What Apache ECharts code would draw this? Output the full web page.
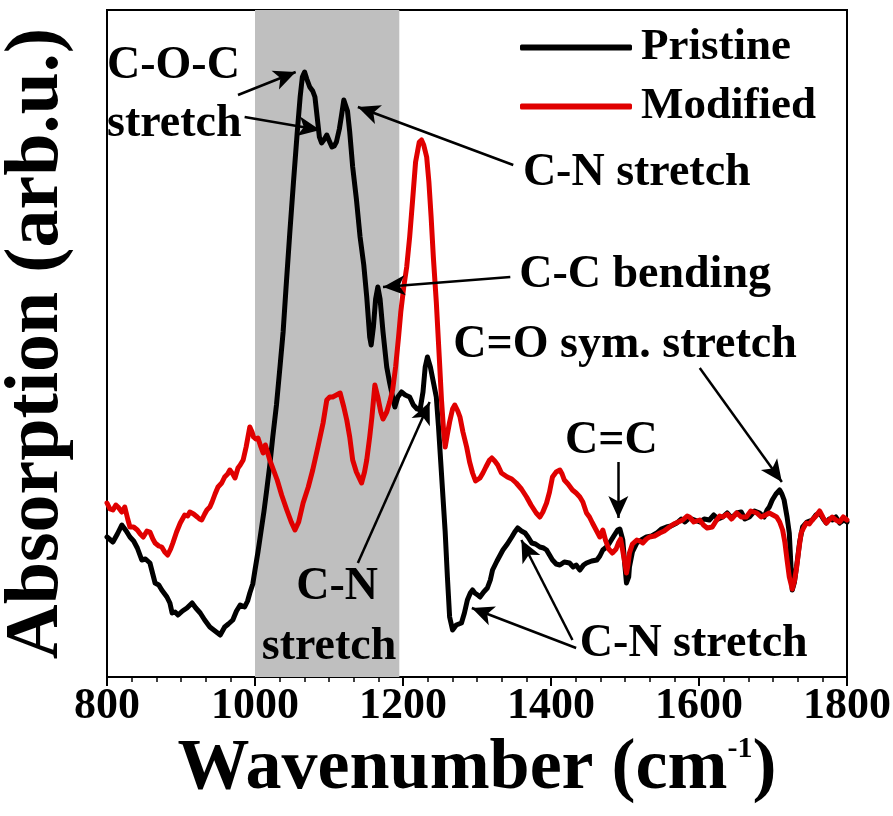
<!DOCTYPE html>
<html>
<head>
<meta charset="utf-8">
<title>FTIR spectra</title>
<script src="https://cdn.jsdelivr.net/npm/echarts@6/dist/echarts.min.js"></script>
<style>
  html, body { margin: 0; padding: 0; background: #fff; }
  #chart { width: 893px; height: 816px; }
</style>
</head>
<body>
<div id="chart"></div>
<script>
// Wavenumber (cm^-1) and absorption (arb. u.) for the pristine film
const pristineWn = [800,808,814,820,826,831,836,841,847,852,858,865,870,874,881,885,888,892,896,902,908,915,920,926,932,939,946,953,959,964,970,975,980,986,990,993,997,
  1000,1004,1008,1012,1016,1020,1024,1029,1034,1038,1042,1047,1052,1057,1061,1064,1067,1070,1074,1078,1081,1084,1087,1090,1094,1097,1101,1104,1107,1110,1114,1117,1120,1122,1125,1128,1132,1137,
  1142,1147,1151,1155,1157,1160,1163,1166,1169,1173,1178,1182,1186,1189,1193,1198,1203,1209,1214,1219,1223,1227,1230,1233,1237,1241,1245,1248,1251,1254,1257,1260,1263,1267,
  1272,1279,1283,1287,1291,1294,1297,1301,1304,1309,1314,1318,1321,1327,1335,1341,1347,1351,1355,1360,1365,1369,1374,1379,1385,1390,1394,1398,1402,1407,1412,1418,1425,1430,1434,1439,1444,1448,1455,1462,1466,1470,1475,1479,1484,1490,1493,1497,1500,1502,1505,1506,1510,1516,1522,1529,1536,1543,1549,1556,1562,1570,1576,1581,1587,1594,1601,1607,1614,1620,1626,1632,1638,1644,1651,1657,1662,1668,1675,1682,1688,1692,1695,1699,1704,1709,1712,1715,1719,1722,1724,1726,1729,1733,1736,1740,1746,1753,1758,1763,1768,1772,1776,1780,1785,1790,1796,1800];
const pristineAbs = [140,135,143,152,146,140,136,129,117,118,114,94,92,87,80,74,64,65,62,66,69,74,69,64,57,50,46,42,50,53,57,66,72,70,76,84,93,
  107,125,145,165,188,212,240,272,312,345,390,444,495,544,580,600,605,598,590,586,580,560,540,534,538,542,535,530,531,535,548,562,577,576,566,545,510,478,
  440,412,380,340,332,350,378,390,378,345,310,294,280,270,280,285,282,280,272,268,267,285,310,320,310,295,280,250,215,180,145,100,60,47,
  52,54,64,77,84,87,84,82,80,85,89,97,107,116,127,133,140,145,149,146,144,140,134,133,130,129,127,122,117,113,112,115,114,110,112,107,112,114,116,117,121,127,130,134,140,147,148,137,110,94,100,110,125,134,137,140,141,144,148,150,151,154,158,155,159,157,155,158,157,162,158,160,164,159,164,165,158,160,166,164,160,167,170,177,183,187,183,177,160,144,115,87,95,117,135,150,155,157,162,164,158,154,158,157,160,154,157,155];

// Wavenumber (cm^-1) and absorption (arb. u.) for the modified film
const modifiedWn = [800,804,808,812,815,820,824,828,831,836,841,845,849,854,858,862,865,870,874,878,882,886,889,894,899,905,909,912,917,922,925,928,932,935,939,942,946,950,955,959,963,966,970,973,977,980,984,988,993,996,998,
  1001,1004,1008,1011,1014,1016,1020,1025,1030,1036,1043,1049,1054,1059,1065,1072,1078,1085,1092,1097,1101,1105,1110,1115,1120,1124,1128,1132,1137,1144,1148,1151,1155,1158,1162,1166,1170,1173,1178,1182,1186,1190,1194,1197,
  1201,1205,1209,1213,1217,1220,1222,1225,1228,1232,1235,1238,1241,1245,1249,1252,1255,1257,1260,1263,1267,1270,1274,1277,1281,1286,1290,1294,1298,1300,1304,1308,1312,1317,1320,1324,1328,1333,1337,1341,1347,1353,1360,1367,1373,1380,1385,1389,1394,1398,
  1402,1407,1412,1415,1418,1423,1429,1434,1439,1443,1448,1452,1456,1461,1466,1470,1474,1478,1483,1488,1491,1494,1497,1500,1502,1504,1506,1510,1516,1520,1524,1529,1533,1540,1547,1553,1560,1566,1572,1578,1584,1587,1593,
  1601,1606,1611,1618,1623,1628,1632,1638,1644,1651,1657,1664,1670,1678,1684,1690,1695,1700,1705,1709,1713,1716,1719,1722,1726,1729,1732,1735,1738,1742,1745,1749,1753,1758,1763,1768,1772,1776,1780,1785,1790,1795,1800];
const modifiedAbs = [174,168,167,172,170,165,170,158,150,150,147,143,140,146,145,138,134,131,130,125,122,128,134,145,154,162,161,165,163,160,158,157,163,167,170,175,183,190,194,200,203,207,203,199,209,212,217,230,250,245,240,
  238,239,230,224,232,234,217,207,197,182,167,155,147,155,174,190,207,230,254,277,280,280,282,284,270,257,240,217,205,194,205,217,240,260,292,280,265,258,265,275,287,310,340,365,
  390,410,440,477,515,527,535,537,532,520,495,460,420,375,320,277,245,230,243,255,268,272,266,260,245,230,215,204,196,195,199,204,210,217,219,216,212,204,202,200,198,194,188,180,172,164,160,165,174,185,
  200,205,207,203,197,193,187,184,180,175,164,160,154,147,140,147,136,128,124,128,134,138,126,113,104,112,124,133,137,136,134,138,140,141,144,146,150,153,155,157,161,160,155,
  157,152,149,150,156,161,160,163,158,164,160,160,166,164,160,162,164,162,160,155,147,135,117,100,88,96,110,128,144,150,154,153,157,161,166,159,154,157,160,157,155,160,157];

const seriesNames = ['Pristine', 'Modified'];
const xTicks = { min: 800, max: 1800, step: 200 };
// shaded wavenumber window (cm^-1)
const bandRange = [1000, 1195];

// Peak assignments: [label, anchor wavenumber, anchor absorption, horizontal alignment]
const notes = [
  ['C-O-C', 800, 611, 'left'],
  ['stretch', 800, 553, 'left'],
  ['C-N stretch', 1362, 504, 'left'],
  ['C-C bending', 1357, 402, 'left'],
  ['C=O sym. stretch', 1268, 332, 'left'],
  ['C=C', 1419, 236, 'left'],
  ['C-N', 1111, 90, 'center'],
  ['stretch', 1100, 30, 'center'],
  ['C-N stretch', 1439, 33, 'left']
];
// Arrows from each label to its band: [fromWn, fromAbs, toWn, toAbs]
const arrows = [
  [977, 582, 1055, 605],
  [986, 560, 1088, 547],
  [1349, 512, 1139, 570],
  [1345, 400, 1173, 390],
  [1601, 309, 1712, 195],
  [1491, 215, 1491, 159],
  [1139, 114, 1236, 275],
  [1434, 29, 1293, 69],
  [1429, 37, 1360, 137]
];

const FONT = '"Liberation Serif", "Times New Roman", serif';

function zip(xs, ys) { return xs.map((x, i) => [x, ys[i]]); }

const chart = echarts.init(document.getElementById('chart'), null, { renderer: 'canvas' });

const option = {
  animation: false,
  backgroundColor: '#fff',
  grid: {
    left: 107, right: 46, top: 10, bottom: 139,
    outerBoundsMode: 'none',
    containLabel: false,
    show: true, borderColor: '#000', borderWidth: 2, backgroundColor: 'transparent'
  },
  legend: {
    data: seriesNames,
    orient: 'vertical',
    left: 515,
    top: 20,
    icon: 'roundRect',
    itemWidth: 112,
    itemHeight: 6,
    itemGap: 14,
    textStyle: { fontFamily: FONT, fontWeight: 'bold', fontSize: 45, color: '#000', padding: [0, 0, 0, 4] },
    selectedMode: false
  },
  xAxis: {
    type: 'value',
    min: xTicks.min,
    max: xTicks.max,
    interval: xTicks.step,
    axisLine: { show: true, lineStyle: { color: '#000', width: 2 } },
    axisTick: { show: true, inside: false, length: 9, lineStyle: { color: '#000', width: 2 } },
    minorTick: { show: true, splitNumber: 6, length: 5, lineStyle: { color: '#000', width: 1.5 } },
    splitLine: { show: false },
    axisLabel: {
      fontFamily: FONT, fontWeight: 'bold', fontSize: 44, color: '#000', margin: 8,
      formatter: v => String(v)
    },
    name: '{t|Wavenumber (cm}{s|-1}{t|)}',
    nameLocation: 'middle',
    nameGap: 56,
    nameTextStyle: {
      rich: {
        t: { fontFamily: FONT, fontWeight: 'bold', fontSize: 72, color: '#000' },
        s: { fontFamily: FONT, fontWeight: 'bold', fontSize: 30, color: '#000', verticalAlign: 'top', padding: [0, 0, 34, 0] }
      }
    }
  },
  yAxis: {
    type: 'value',
    min: 0,
    max: 667,
    axisLine: { show: true, lineStyle: { color: '#000', width: 2 } },
    axisTick: { show: false },
    axisLabel: { show: false },
    splitLine: { show: false },
    name: 'Absorption (arb.u.)',
    nameLocation: 'middle',
    nameGap: 32,
    nameTextStyle: { fontFamily: FONT, fontWeight: 'bold', fontSize: 76, color: '#000' }
  },
  series: [
    {
      name: seriesNames[0],
      type: 'line',
      data: zip(pristineWn, pristineAbs),
      showSymbol: false,
      symbol: 'none',
      smooth: false,
      lineStyle: { color: '#000', width: 5, join: 'round', cap: 'round' },
      itemStyle: { color: '#000' },
      z: 2,
      markArea: {
        silent: true,
        itemStyle: { color: '#bfbfbf' },
        data: [[{ xAxis: bandRange[0] }, { xAxis: bandRange[1] }]]
      },
      markLine: {
        silent: true,
        symbol: ['none', 'arrow'],
        symbolSize: [15, 22],
        label: { show: false },
        lineStyle: { color: '#000', width: 2.5, type: 'solid' },
        emphasis: { disabled: true },
        data: arrows.map(a => [{ coord: [a[0], a[1]] }, { coord: [a[2], a[3]] }])
      }
    },
    {
      name: seriesNames[1],
      type: 'line',
      data: zip(modifiedWn, modifiedAbs),
      showSymbol: false,
      symbol: 'none',
      smooth: false,
      lineStyle: { color: '#e00000', width: 5, join: 'round', cap: 'round' },
      itemStyle: { color: '#e00000' },
      z: 3
    }
  ]
};

chart.setOption(option);

// Place the peak labels at their anchors in data space
const labelGraphics = notes.map(n => {
  const p = chart.convertToPixel({ gridIndex: 0 }, [n[1], n[2]]);
  return {
    type: 'text',
    x: p[0],
    y: p[1],
    z: 10,
    silent: true,
    style: {
      text: n[0],
      fontFamily: FONT,
      fontWeight: 'bold',
      fontSize: 46,
      fill: '#000',
      align: n[3],
      verticalAlign: 'middle'
    }
  };
});
chart.setOption({ graphic: labelGraphics });
</script>
</body>
</html>
